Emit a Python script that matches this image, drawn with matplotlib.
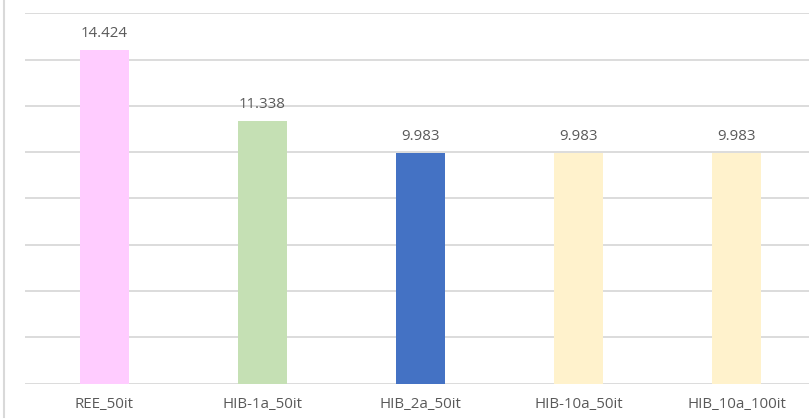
import matplotlib
matplotlib.use('Agg')
from matplotlib import pyplot as plt
from matplotlib.lines import Line2D

categories=['REE_50it','HIB-1a_50it','HIB_2a_50it','HIB-10a_50it','HIB_10a_100it']
values=[14.424,11.338,9.983,9.983,9.983]
labels=['14.424','11.338','9.983','9.983','9.983']
colors=['#FFCCFF','#C5E0B4','#4472C4','#FFF2CC','#FFF2CC']

TEXT_COLOR='#595959'
GRID_COLOR='#D9D9D9'

plt.rcParams['font.family']=['Open Sans','DejaVu Sans']

fig=plt.figure(figsize=(8.09,4.19),dpi=100)
ax=fig.add_axes([25/809,35.5/419,791/809,370/419])

x=list(range(len(categories)))
ax.bar(x,values,width=0.31,color=colors,zorder=3)
for xi,v,l in zip(x,values,labels):
	ax.annotate(l,(xi,v),xytext=(0,6.5),textcoords='offset points',ha='center',va='bottom',
		fontsize=10.8,color=TEXT_COLOR)

ax.set_xlim(-0.5,len(categories)-0.5)
ax.set_ylim(0,16)
ax.set_yticks(range(0,17,2))
ax.yaxis.grid(True,color=GRID_COLOR,linewidth=1.3,zorder=0)
ax.tick_params(axis='y',length=0,labelleft=False)
ax.set_xticks(x)
ax.set_xticklabels(categories,fontsize=10.8,color=TEXT_COLOR)
ax.tick_params(axis='x',length=0,pad=10)
for s in ax.spines.values():
	s.set_visible(False)

# left border line of the chart area
fig.add_artist(Line2D([3.5/809,3.5/809],[2/419,1],color=GRID_COLOR,linewidth=1.5))

fig.savefig('out.png',dpi=100)
